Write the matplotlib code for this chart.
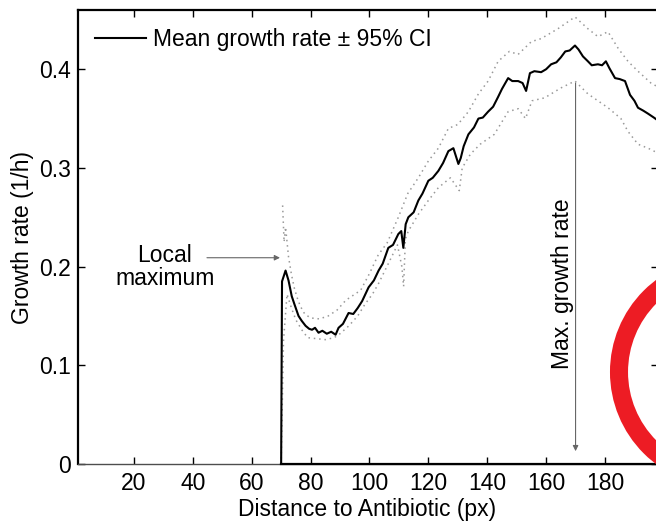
import numpy as np
import matplotlib
matplotlib.use("Agg")
import matplotlib.pyplot as plt
from matplotlib.patches import Circle
from matplotlib.transforms import IdentityTransform

plt.rcParams['font.family'] = ['Liberation Sans', 'DejaVu Sans']

# ----------------------------
#  Datos
# ----------------------------
# tasa media de crecimiento
media_x = [70, 70.3, 71.5, 72.5, 73.6, 74.5, 75.9, 77, 78.3, 79.5, 80.5, 81.5, 82.7,
           84, 85.5, 87, 88.5, 89.5, 91, 92.9, 94.5, 96, 97.5, 99.7, 101.5, 103.1,
           104.5, 106.4, 108, 109.8, 110.8, 111.5, 112.3, 113.2, 115, 116.6, 118,
           120, 121.5, 123.4, 125, 126.8, 128.5, 130.2, 131, 132, 133.6, 135.5, 137,
           138.5, 140.3, 142, 143.7, 145, 147.1, 148.5, 150.5, 152, 153.2, 154.5,
           156, 158.3, 160, 161.7, 163.5, 165, 166.5, 168, 169.8, 171, 172.5, 174.2,
           175.5, 177.6, 179, 180.3, 181.5, 183.4, 185, 186.8, 188.5, 190, 191.2,
           193, 194.6, 196.6, 198]
media_y = [0.0, 0.185, 0.196, 0.186, 0.170, 0.162, 0.150, 0.145, 0.140, 0.137, 0.136,
           0.138, 0.133, 0.135, 0.132, 0.134, 0.131, 0.138, 0.142, 0.153, 0.152, 0.158,
           0.165, 0.179, 0.186, 0.196, 0.203, 0.219, 0.222, 0.233, 0.236, 0.219,
           0.243, 0.250, 0.255, 0.267, 0.274, 0.287, 0.290, 0.297, 0.305, 0.317,
           0.320, 0.304, 0.310, 0.322, 0.334, 0.341, 0.350, 0.351, 0.357, 0.362,
           0.372, 0.380, 0.391, 0.388, 0.388, 0.386, 0.378, 0.396, 0.398, 0.397,
           0.400, 0.405, 0.407, 0.412, 0.418, 0.419, 0.424, 0.420, 0.413, 0.408,
           0.404, 0.405, 0.404, 0.408, 0.401, 0.391, 0.390, 0.388, 0.374, 0.368,
           0.361, 0.358, 0.355, 0.351, 0.348]

# intervalo de confianza 95% (superior)
sup_x = [70.5, 71.0, 71.5, 72.5, 73.5, 74.5, 75.5, 76.5, 78, 80, 83, 86, 89, 92, 95,
         97, 100, 103, 106, 109.8, 113, 116.6, 120, 123.4, 126.8, 130, 133.6, 137,
         140.3, 143.7, 147.5, 150.5, 155, 158.3, 164, 169.8, 174.2, 177.6, 181,
         184.5, 187.8, 191.2, 195.6, 198]
sup_y = [0.262, 0.225, 0.240, 0.210, 0.192, 0.178, 0.168, 0.160, 0.152, 0.148, 0.147,
         0.150, 0.156, 0.166, 0.172, 0.176, 0.193, 0.212, 0.224, 0.250, 0.274, 0.290,
         0.307, 0.320, 0.340, 0.344, 0.357, 0.375, 0.388, 0.408, 0.418, 0.415, 0.428,
         0.431, 0.441, 0.453, 0.441, 0.433, 0.438, 0.421, 0.408, 0.398, 0.386, 0.382]

# intervalo de confianza 95% (inferior)
inf_x = [70, 70.8, 72, 73.5, 75, 77, 79, 82, 85, 88, 90, 93, 96, 98.5, 101, 103.1,
         106.4, 109.5, 111, 111.6, 112.2, 113.2, 116.6, 120, 123.4, 127.5, 130.5,
         131.5, 134.3, 137.6, 142.4, 147.1, 150.5, 153, 155.2, 159.5, 165, 169.8,
         174.2, 177.6, 181, 185.4, 187.8, 191.2, 194.6, 198]
inf_y = [0.0, 0.125, 0.172, 0.158, 0.146, 0.136, 0.128, 0.127, 0.126, 0.128, 0.132,
         0.140, 0.150, 0.162, 0.172, 0.183, 0.203, 0.222, 0.200, 0.180, 0.228, 0.236,
         0.253, 0.267, 0.280, 0.290, 0.277, 0.300, 0.314, 0.324, 0.334, 0.357, 0.360,
         0.350, 0.368, 0.371, 0.381, 0.388, 0.375, 0.368, 0.361, 0.350, 0.337, 0.324,
         0.320, 0.315]

# tramo en cero a partir del antibiotico
cero_x = [70, 198]
cero_y = [0.0, 0.0]

x_ticks = [20, 40, 60, 80, 100, 120, 140, 160, 180]
y_ticks = [0, 0.1, 0.2, 0.3, 0.4]
y_tick_labels = ['0', '0.1', '0.2', '0.3', '0.4']

# ---------------------------------------------------
#  Figura
# ---------------------------------------------------
fs = 16.5
fig = plt.figure(figsize=(6.56, 5.24), dpi=100)
ax = fig.add_axes([78 / 656, 60 / 524, 580 / 656, 454 / 524])

ax.plot(sup_x, sup_y, color='0.6', linestyle=(0, (1, 2.5)), linewidth=1.1, zorder=2)
ax.plot(inf_x, inf_y, color='0.6', linestyle=(0, (1, 2.5)), linewidth=1.1, zorder=2)
ax.plot(cero_x, cero_y, color='black', linewidth=1.6, zorder=3, clip_on=False)
ax.plot(media_x, media_y, color='black', linewidth=1.5, zorder=4,
        label='Mean growth rate \u00b1 95% CI')

ax.set_xlim(1, 198)
ax.set_ylim(0, 0.46)
ax.set_xticks(x_ticks)
ax.set_yticks(y_ticks)
ax.set_yticklabels(y_tick_labels)
ax.tick_params(direction='in', length=5, width=1, top=True, right=True,
               labelsize=fs, pad=5)
ax.tick_params(axis='x', pad=5.5)
for lado in ['left', 'top', 'right']:
    ax.spines[lado].set_linewidth(1.6)
ax.spines['bottom'].set_linewidth(1.0)
ax.spines['bottom'].set_color('0.3')

ax.set_xlabel('Distance to Antibiotic (px)', fontsize=fs)
ax.set_ylabel('Growth rate (1/h)', fontsize=fs)
ax.xaxis.set_label_coords(0.498, -0.074)
ax.yaxis.set_label_coords(-0.076, 0.5)

ax.legend(loc='upper left', bbox_to_anchor=(0.03, 0.96), frameon=False,
          fontsize=fs, handlelength=2.2, handletextpad=0.3, borderaxespad=0,
          borderpad=0)

# anotaciones
ax.text(30.5, 0.2, 'Local\nmaximum', fontsize=fs, ha='center', va='center',
        linespacing=1.0)
ax.annotate('', xy=(69.6, 0.209), xytext=(44.8, 0.209),
            arrowprops=dict(arrowstyle='-|>', color='0.4', lw=0.8,
                            mutation_scale=8, shrinkA=0, shrinkB=0))
ax.annotate('', xy=(170, 0.013), xytext=(170, 0.386),
            arrowprops=dict(arrowstyle='-|>', color='0.4', lw=0.8,
                            mutation_scale=8, shrinkA=0, shrinkB=0))
ax.text(165.4, 0.183, 'Max. growth rate', fontsize=fs, rotation=90,
        ha='center', va='center')

# circulo rojo
circulo = Circle((725, 152), 106, fill=False, edgecolor='#ED1C24', linewidth=13,
                 transform=IdentityTransform(), zorder=10)
fig.add_artist(circulo)

fig.savefig('out.png', dpi=100)
